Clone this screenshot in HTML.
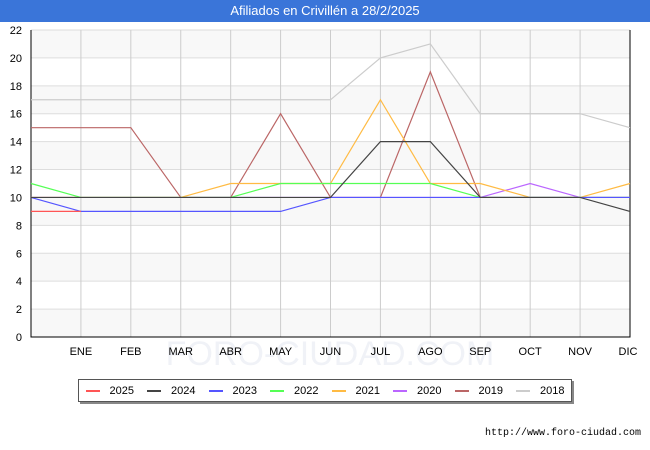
<!DOCTYPE html><html><head><meta charset="utf-8"><style>
body{margin:0;width:650px;height:450px;background:#fff;font-family:"Liberation Sans",sans-serif;position:relative;overflow:hidden}
#title{position:absolute;left:0;top:0;width:650px;height:22px;background:#3a75d9;color:#fff;font-size:13px;text-align:center;line-height:22px}
#legend{position:absolute;left:78px;top:379px;width:492px;height:21px;border:1px solid #555;box-shadow:2px 2px 0 #888;background:#fff;font-size:11px;display:flex;align-items:center;justify-content:space-around}
.li{display:flex;align-items:center}.li span{display:inline-block;width:14px;height:2px;margin-right:10px}
#url{position:absolute;right:9px;top:428px;font-size:10px;font-family:"Liberation Mono",monospace}
</style></head><body>
<div id="title">Afiliados en Crivillén a 28/2/2025</div>
<svg id="c" width="650" height="450" style="position:absolute;left:0;top:0"></svg>
<div id="legend"></div>
<div id="url">http://www.foro-ciudad.com</div>
<script>
const months=["","ENE","FEB","MAR","ABR","MAY","JUN","JUL","AGO","SEP","OCT","NOV","DIC"];
const yTicks=[0,2,4,6,8,10,12,14,16,18,20,22];
const years=["2025","2024","2023","2022","2021","2020","2019","2018"];
const colors=["#ff5555","#444444","#5555ff","#55ff55","#ffbb44","#bb66ff","#bb6666","#cccccc"];
const s2018=[17,17,17,17,17,17,17,20,21,16,16,16,15];
const s2019=[15,15,15,10,10,16,10,10,19,10,10,10,10];
const s2020=[10,10,10,10,10,10,10,10,10,10,11,10,10];
const s2021=[10,10,10,10,11,11,11,17,11,11,10,10,11];
const s2022=[11,10,10,10,10,11,11,11,11,10,10,10,10];
const s2023=[10,9,9,9,9,9,10,10,10,10,10,10,10];
const s2024=[10,10,10,10,10,10,10,14,14,10,10,10,9];
const s2025=[9,9];
const drawOrder=[[s2018,7],[s2019,6],[s2020,5],[s2021,4],[s2022,3],[s2023,2],[s2024,1],[s2025,0]];
const L=31,R=630,T=30,B=337;
const x=i=>L+i*(R-L)/12, y=v=>B-v*(B-T)/22;
const svg=document.getElementById('c');const NS="http://www.w3.org/2000/svg";
function mk(t,a,p){const e=document.createElementNS(NS,t);for(const k in a)e.setAttribute(k,a[k]);(p||svg).appendChild(e);return e;}
for(let i=0;i<11;i++){if(i%2==0){const r=mk('rect',{x:L,y:y(yTicks[i+1]),width:R-L,height:y(yTicks[i])-y(yTicks[i+1]),fill:'#f8f8f8'});

}}
const wm=mk('text',{x:330,y:365,'text-anchor':'middle','font-size':34,fill:'#f0f2f7'});wm.textContent="FORO-CIUDAD.COM";


yTicks.forEach(v=>{const l=mk('line',{x1:L,x2:R,y1:y(v),y2:y(v),stroke:'#ddd'});


const t=mk('text',{x:L-9,y:y(v)+4,'text-anchor':'end','font-size':11,fill:'#000'});t.textContent=v;

});
months.forEach((m,i)=>{if(i==0)return;const l=mk('line',{x1:x(i),x2:x(i),y1:T,y2:B,stroke:'#ccc'});


const t=mk('text',{x:x(i)-(i==12?2:0),y:355,'text-anchor':'middle','font-size':11});t.textContent=m;

});
const ax=mk('path',{d:`M${L},${T}V${B}H${R}V${T}`,fill:'none',stroke:'#000'});


drawOrder.forEach(([d,k])=>{const p=mk('polyline',{points:d.map((v,i)=>x(i)+','+y(v)).join(' '),fill:'none',stroke:colors[k],'stroke-width':1.2});

});
const lg=document.getElementById('legend');
years.forEach((yr,k)=>{const d=document.createElement('div');d.className='li';d.innerHTML=`<span style="background:${colors[k]}"></span>${yr}`;

lg.appendChild(d);});
</script></body></html>
